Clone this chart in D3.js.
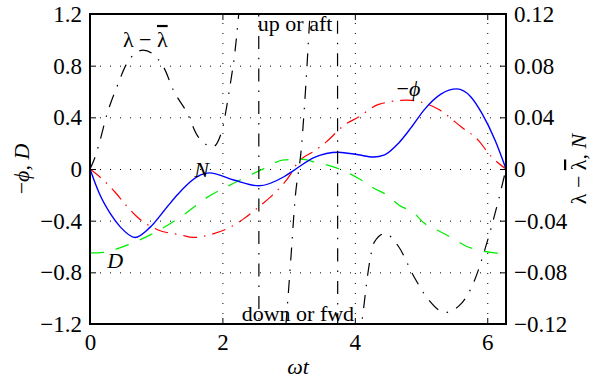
<!DOCTYPE html>
<html>
<head>
<meta charset="utf-8">
<script src="https://cdn.jsdelivr.net/npm/d3@7"></script>
<style>
  body { margin: 0; background: #fff; }
  text { font-family: 'Liberation Serif', 'Times New Roman', serif; }
</style>
</head>
<body>
<div id="chart"></div>
<script>
const w = 594,
      h = 381;

const margin = {top: 14, right: 88, bottom: 57, left: 90};

// x ticks and y ticks
const xTicks = [0, 2, 4, 6];
const leftTicks = [-1.2, -0.8, -0.4, 0, 0.4, 0.8, 1.2];
const rightTicks = [-0.12, -0.08, -0.04, 0, 0.04, 0.08, 0.12];

// -phi (left axis)
const phiT = [0, 0.2, 0.38, 0.56, 0.71, 1.02, 1.37, 1.56, 1.87, 2.12, 2.31, 2.58, 2.76, 3.03, 3.11, 3.41, 3.57, 3.84, 4.05, 4.36, 4.8, 5.05, 5.27, 5.61, 5.87, 6.02, 6.283];
const phiV = [0, -0.085, -0.18, -0.29, -0.37, -0.47, -0.51, -0.53, -0.50, -0.45, -0.39, -0.28, -0.20, -0.04, 0.03, 0.147, 0.21, 0.34, 0.40, 0.50, 0.534, 0.51, 0.46, 0.325, 0.22, 0.12, 0];

// D (left axis)
const dT = [0, 0.2, 0.56, 0.91, 1.37, 1.77, 2.17, 2.58, 2.93, 3.19, 3.44, 3.64, 3.87, 4.07, 4.28, 4.48, 4.67, 4.89, 5.05, 5.27, 5.49, 5.69, 5.89, 6.12, 6.283];
const dV = [-0.65, -0.645, -0.59, -0.51, -0.37, -0.22, -0.11, -0.008, 0.07, 0.077, 0.046, 0.023, -0.023, -0.077, -0.147, -0.20, -0.28, -0.34, -0.42, -0.48, -0.54, -0.60, -0.63, -0.65, -0.655];

// N (right axis)
const nT = [0, 0.06, 0.15, 0.30, 0.46, 0.68, 0.91, 1.17, 1.32, 1.47, 1.67, 1.80, 2.17, 2.55, 2.93, 3.08, 3.39, 3.75, 4.05, 4.28, 4.45, 4.66, 4.85, 5.05, 5.30, 5.54, 5.75, 5.92, 6.12, 6.283];
const nV = [0, -0.0085, -0.02, -0.034, -0.045, -0.053, -0.045, -0.029, -0.020, -0.012, -0.0046, -0.003, -0.0085, -0.013, -0.006, -0.001, 0.009, 0.013, 0.011, 0.0093, 0.011, 0.020, 0.032, 0.046, 0.058, 0.062, 0.056, 0.043, 0.022, 0];

// lambda - lambda bar (right axis), runs off the scale near the jumps
const lamT = [0, 0.06, 0.14, 0.26, 0.41, 0.56, 0.80, 1.11, 1.26, 1.47, 1.62, 1.79, 1.85, 2.0, 2.05, 2.12, 2.19, 2.23, 2.35, 2.54, 2.56, 2.80, 2.96, 2.99, 3.03, 3.10, 3.19, 3.28, 3.31, 3.45, 3.73, 3.75, 3.95, 4.13, 4.22, 4.29, 4.45, 4.66, 4.90, 5.11, 5.36, 5.61, 5.81, 5.96, 6.18, 6.283];
const lamV = [0, 0.007, 0.020, 0.043, 0.064, 0.082, 0.092, 0.079, 0.061, 0.043, 0.026, 0.018, 0.017, 0.031, 0.044, 0.066, 0.091, 0.111, 0.2, 0.6, -0.6, -0.25, -0.12, -0.1, -0.072, -0.022, 0.015, 0.082, 0.109, 0.2, 0.6, -0.6, -0.2, -0.109, -0.073, -0.057, -0.050, -0.060, -0.084, -0.101, -0.111, -0.104, -0.086, -0.063, -0.022, 0];

function drawChart() {
    const iw = w - margin.left - margin.right,
          ih = h - margin.top - margin.bottom;

    const svg = d3.select("#chart")
        .append("svg")
        .attr("width", w)
        .attr("height", h)
        .style("background-color", "white");

    const g = svg.append("g")
        .attr("transform", "translate(" + margin.left + "," + margin.top + ")");

    const x = d3.scaleLinear().domain([0, 2 * Math.PI]).range([0, iw]);
    const yL = d3.scaleLinear().domain([-1.2, 1.2]).range([ih, 0]);
    const yR = d3.scaleLinear().domain([-0.12, 0.12]).range([ih, 0]);

    g.append("clipPath").attr("id", "clip")
        .append("rect").attr("width", iw).attr("height", ih);

    // dotted grid
    g.append("g")
        .attr("class", "grid")
        .call(d3.axisLeft(yL).tickValues(leftTicks.slice(1, -1)).tickSize(-iw).tickFormat(""))
        .call(s => s.select(".domain").remove());
    g.append("g")
        .attr("class", "grid")
        .attr("transform", "translate(0," + ih + ")")
        .call(d3.axisBottom(x).tickValues(xTicks.slice(1)).tickSize(-ih).tickFormat(""))
        .call(s => s.select(".domain").remove());
    g.selectAll(".grid line")
        .attr("stroke", "#000")
        .attr("stroke-width", 1)
        .attr("stroke-dasharray", "1,9");

    const plot = g.append("g").attr("clip-path", "url(#clip)");

    function series(ts, vs, yScale, color, dash, width) {
        const line = d3.line()
            .x(d => x(d[0]))
            .y(d => yScale(d[1]))
            .curve(d3.curveMonotoneX);
        plot.append("path")
            .datum(ts.map((t, i) => [t, vs[i]]))
            .attr("fill", "none")
            .attr("stroke", color)
            .attr("stroke-width", width)
            .attr("stroke-dasharray", dash)
            .attr("d", line);
    }

    series(phiT, phiV, yL, "#ff0000", "14,7,1.5,7", 1.2);
    series(dT, dV, yL, "#00ee00", "14,12", 1.3);
    series(nT, nV, yR, "#0000ff", null, 1.4);
    series(lamT, lamV, yR, "#000", "13,9,1.5,9", 1.2);

    // axes
    const fmtL = d => d === 0 ? "0" : d3.format(".1f")(d);
    const fmtR = d => d === 0 ? "0" : d3.format(".2f")(d);

    const axL = g.append("g")
        .call(d3.axisLeft(yL).tickValues(leftTicks).tickSize(-6).tickPadding(8).tickFormat(fmtL));
    const axR = g.append("g")
        .attr("transform", "translate(" + iw + ",0)")
        .call(d3.axisRight(yR).tickValues(rightTicks).tickSize(-6).tickPadding(8).tickFormat(fmtR));
    const axB = g.append("g")
        .attr("transform", "translate(0," + ih + ")")
        .call(d3.axisBottom(x).tickValues(xTicks).tickSize(-6).tickPadding(10).tickFormat(d3.format("d")));
    const axT = g.append("g")
        .call(d3.axisTop(x).tickValues(xTicks).tickSize(-6).tickFormat(""));

    [axL, axR, axB, axT].forEach(a => {
        a.selectAll(".domain").remove();
        a.selectAll("line").attr("stroke", "#000");
        a.selectAll("text")
            .attr("fill", "#000")
            .style("font-size", "23px")
            .style("font-family", "'Liberation Serif', serif");
    });

    g.append("rect")
        .attr("width", iw)
        .attr("height", ih)
        .attr("fill", "none")
        .attr("stroke", "#000")
        .attr("stroke-width", 2);

    // axis labels
    svg.append("text")
        .attr("x", margin.left + iw / 2)
        .attr("y", 374)
        .attr("text-anchor", "middle")
        .style("font-size", "22px")
        .style("font-style", "italic")
        .text("ωt");

    svg.append("text")
        .attr("transform", "translate(29," + (margin.top + ih / 2) + ") rotate(-90)")
        .attr("text-anchor", "middle")
        .style("font-size", "22px")
        .html("−<tspan font-style='italic'>ϕ</tspan>, <tspan font-style='italic'>D</tspan>");

    svg.append("text")
        .attr("transform", "translate(586," + (margin.top + ih / 2) + ") rotate(-90)")
        .attr("text-anchor", "middle")
        .style("font-size", "22px")
        .html("λ − <tspan style='text-decoration: overline'>λ</tspan>, <tspan font-style='italic'>N</tspan>");

    // curve annotations
    const notes = [
        {t: 0.835, v: 0.945, html: "λ − <tspan style='text-decoration: overline'>λ</tspan>", anchor: "middle"},
        {t: 1.685, v: -0.062, html: "<tspan font-style='italic'>N</tspan>", anchor: "middle"},
        {t: 4.63, v: 0.565, html: "−<tspan font-style='italic'>ϕ</tspan>", anchor: "start"},
        {t: 0.26, v: -0.766, html: "<tspan font-style='italic'>D</tspan>", anchor: "start"},
        {t: 2.535, v: 1.068, html: "up or aft", anchor: "start"},
        {t: 3.14, v: -1.177, html: "down or fwd", anchor: "middle"}
    ];

    g.selectAll(".note")
        .data(notes)
        .enter()
        .append("text")
        .attr("class", "note")
        .attr("x", d => x(d.t))
        .attr("y", d => yL(d.v))
        .attr("text-anchor", d => d.anchor)
        .style("font-size", "22px")
        .html(d => d.html);
}

drawChart();
</script>
</body>
</html>
